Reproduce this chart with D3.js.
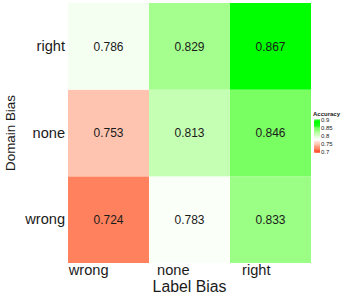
<!DOCTYPE html>
<html>
<head>
<meta charset="utf-8">
<script src="https://cdn.jsdelivr.net/npm/d3@7"></script>
<style>
  body { margin: 0; background: #fff; }
  text { font-family: "Liberation Sans", Arial, sans-serif; fill: #1a1a1a; }
</style>
</head>
<body>
<div class="chart"></div>
<script>
// data
var labelBias = ["wrong", "none", "right"];
var domainBias = ["wrong", "none", "right"];
var accWrongDomain = [0.724, 0.783, 0.833];
var accNoneDomain = [0.753, 0.813, 0.846];
var accRightDomain = [0.786, 0.829, 0.867];
var legendBreaks = [0.7, 0.75, 0.8, 0.85, 0.9];

var rows = [accWrongDomain, accNoneDomain, accRightDomain];
var cells = [];
domainBias.forEach(function(dom, i){
    labelBias.forEach(function(lab, j){
        cells.push({domain: dom, label: lab, value: rows[i][j]});
    });
});

var svg = d3.select(".chart").append("svg")
    .attr("width", 349)
    .attr("height", 295);

var x = d3.scaleBand().domain(labelBias).range([68, 311]);
var y = d3.scaleBand().domain(domainBias).range([263, 3]);

// diverging fill, white at 0.78
var color = d3.scaleLinear()
    .domain([0.693, 0.78, 0.867])
    .range(["#ff0000", "#ffffff", "#00ff00"])
    .interpolate(d3.interpolateLab)
    .clamp(true);

svg.selectAll(".cell")
    .data(cells).enter().append("rect")
    .attr("class", "cell")
    .attr("x", function(d){ return x(d.label); })
    .attr("y", function(d){ return y(d.domain); })
    .attr("width", x.bandwidth())
    .attr("height", y.bandwidth())
    .attr("fill", function(d){ return color(d.value); });

svg.selectAll(".val")
    .data(cells).enter().append("text")
    .attr("class", "val")
    .attr("x", function(d){ return x(d.label) + x.bandwidth() / 2; })
    .attr("y", function(d){ return y(d.domain) + y.bandwidth() / 2; })
    .attr("dy", "0.35em")
    .attr("text-anchor", "middle")
    .style("font-size", "12px")
    .text(function(d){ return d3.format(".3f")(d.value); });

// x axis labels, right edge at tile centre
var xAxis = d3.axisBottom(x).tickSize(0).tickPadding(0);
var gx = svg.append("g")
    .attr("transform", "translate(0,263)")
    .call(xAxis);
gx.select(".domain").remove();
gx.selectAll("text")
    .attr("text-anchor", "end")
    .attr("y", 12)
    .attr("dy", 0)
    .style("font-size", "14.6px")
    .style("font-family", "Liberation Sans, Arial, sans-serif")
    .attr("fill", "#1a1a1a");

var yAxis = d3.axisLeft(y).tickSize(0).tickPadding(3);
var gy = svg.append("g")
    .attr("transform", "translate(68,0)")
    .call(yAxis);
gy.select(".domain").remove();
gy.selectAll("text")
    .style("font-size", "14.6px")
    .style("font-family", "Liberation Sans, Arial, sans-serif")
    .attr("fill", "#1a1a1a");

svg.append("text")
    .attr("x", 189.5)
    .attr("y", 292)
    .attr("text-anchor", "middle")
    .style("font-size", "15.8px")
    .text("Label Bias");

svg.append("text")
    .attr("transform", "translate(15,133) rotate(-90)")
    .attr("text-anchor", "middle")
    .style("font-size", "13.4px")
    .text("Domain Bias");

// legend
var legY = d3.scaleLinear().domain([0.7, 0.9]).range([152, 120]);
var legend = svg.append("g");
legend.append("text")
    .attr("x", 313)
    .attr("y", 116)
    .style("font-size", "6px")
    .style("font-weight", "bold")
    .text("Accuracy");

var steps = d3.range(0, 41).map(function(i){ return 0.7 + i * 0.005; });
legend.selectAll(".leg")
    .data(steps).enter().append("rect")
    .attr("x", 314)
    .attr("y", function(d){ return legY(d) - 0.5; })
    .attr("width", 6)
    .attr("height", 1.2)
    .attr("fill", function(d){ return color(d); });

legend.selectAll(".tk")
    .data(legendBreaks).enter().append("line")
    .attr("x1", 314).attr("x2", 315.2)
    .attr("y1", function(d){ return legY(d); })
    .attr("y2", function(d){ return legY(d); })
    .attr("stroke", "#fff").attr("stroke-width", 0.5);

legend.selectAll(".lab")
    .data(legendBreaks).enter().append("text")
    .attr("x", 321)
    .attr("y", function(d){ return legY(d); })
    .attr("dy", "0.35em")
    .style("font-size", "6px")
    .attr("fill", "#333")
    .text(function(d){ return d; });
</script>
</body>
</html>
